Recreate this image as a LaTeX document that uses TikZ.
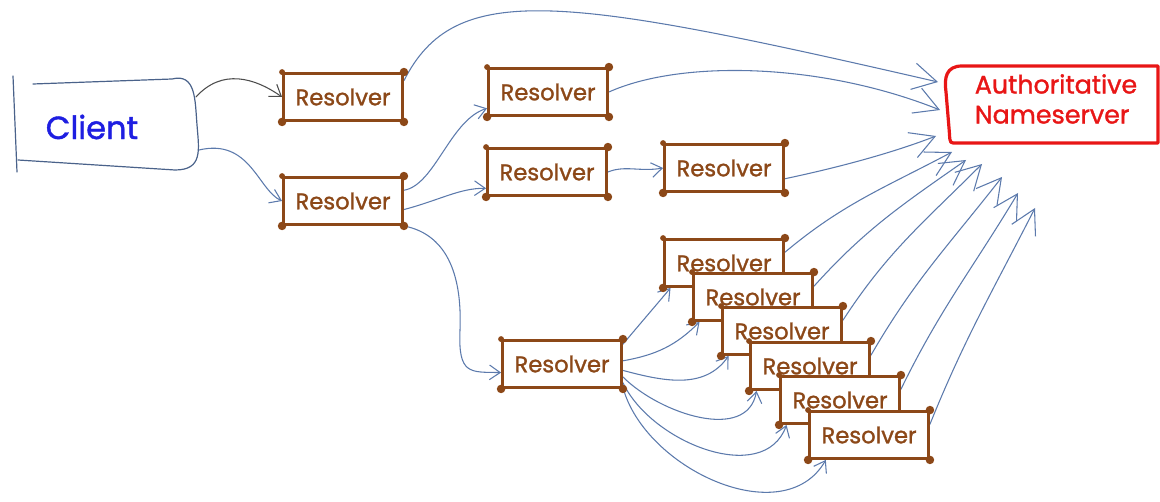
\documentclass[tikz,border=0pt]{standalone}
\usepackage{fontspec}
\setmainfont{Poppins}
\newfontfamily\handfont[FakeBold=1.3]{Poppins}
\usetikzlibrary{arrows.meta,backgrounds,positioning}

\definecolor{rbrown}{RGB}{140,72,24}
\definecolor{lnblue}{RGB}{92,122,172}
\definecolor{cblue}{RGB}{30,30,225}
\definecolor{nred}{RGB}{232,22,22}

\tikzset{
  resolver/.style={draw=rbrown, line width=2.4pt, fill=white, text=rbrown,
    minimum width=89pt, minimum height=35pt, inner sep=0pt,
    font=\handfont\fontsize{17}{17}\selectfont},
  link/.style={draw=lnblue, line width=0.8pt, line cap=round,
    -{Straight Barb[length=8pt,width=11pt,line width=0.8pt]}},
  biglink/.style={link, -{Straight Barb[length=18pt,width=20pt,line width=0.8pt]}},
  clientline/.style={draw=lnblue!80!black, line width=0.9pt, line cap=round},
  nsline/.style={draw=nred, line width=2.4pt, line join=round},
}

\newcommand{\resolverbox}[2]{%
  \node[resolver] (#1) at (#2) {Resolver};
  \foreach \c in {north east,south east,south west}
    {\fill[rbrown] (#1.\c) circle (3.2pt);}
  \fill[rbrown] (#1.north west) circle (2.2pt);
}

\begin{document}
\begin{tikzpicture}[x=0.75pt,y=-0.75pt]
\useasboundingbox (0,0) rectangle (1160,502);

% client
\draw[clientline] (13,76) -- (17,172);
\draw[clientline] (33,84) -- (172,79) .. controls (196,73) and (195,100) .. (197,125)
  .. controls (199,150) and (203,170) .. (175,170) -- (18,160);
\node[text=cblue, font=\handfont\fontsize{24}{24}\selectfont] (client) at (92,127) {Client};
\coordinate (cout1) at (196,97);
\coordinate (cout2) at (199,150);

% authoritative nameserver
\draw[nsline] (1158,66) -- (962,66) .. controls (946,66) and (944,78) .. (946,92)
  -- (949,128) .. controls (950,138) and (949,143) .. (953,143) -- (1158,143) -- cycle;
\node[text=nred, align=left, font=\handfont\fontsize{19}{22.5}\selectfont] (ns) at (1056,99) {Authoritative\\Nameserver};
\coordinate (a1) at (938,82);
\coordinate (a2) at (940,110);
\coordinate (a3) at (936,136);
\coordinate (b1) at (952,152);
\coordinate (b2) at (966,160);
\coordinate (b3) at (982,164);
\coordinate (b4) at (1002,177);
\coordinate (b5) at (1018,193);
\coordinate (b6) at (1035,208);

% resolvers
\resolverbox{r1}{343,97}
\resolverbox{r2}{343,201}
\resolverbox{r3}{548,92}
\resolverbox{r4}{547,172}
\resolverbox{r5}{724,168}
\resolverbox{r6}{562,364}
\foreach \i/\x/\y in {1/724/263,2/753/297,3/782/331,4/810/366,5/840/400,6/869/435}
  {\resolverbox{s\i}{\x,\y}}

\begin{scope}[on background layer]
\draw[link, draw=black!70] (cout1) .. controls (222,68) and (255,78) .. (r1.west);
\draw[link] (cout2) .. controls (250,138) and (258,190) .. (r2.west);
\draw[biglink] (r1.15) .. controls (455,-20) and (560,-5) .. (a1);
\draw[biglink] (r3.east) .. controls (680,60) and (820,62) .. (a2);
\draw[link] (r2.10) .. controls (435,185) and (450,120) .. (r3.-165);
\draw[link] (r2.-8) .. controls (440,200) and (460,188) .. (r4.-165);
\draw[link] (r2.south east) .. controls (450,235) and (462,280) .. (460,330)
  .. controls (458,375) and (470,372) .. (r6.-172);
\draw[link] (r4.east) .. controls (625,165) and (640,172) .. (r5.west);
\draw[biglink] (r5.-10) .. controls (850,165) and (900,150) .. (a3);
% resolver farm
\draw[link] (r6.18) to[out=50, in=-130] (s1.-155);
\draw[link] (r6.3) to[out=10, in=-135] (s2.-155);
\draw[link] (r6.-6) to[out=-15, in=-125] (s3.-155);
\draw[link] (r6.-12) to[out=-45, in=-100] (s4.-155);
\draw[link] (r6.-17) to[out=-65, in=-110] (s5.-155);
\draw[link] (r6.-21) to[out=-75, in=-120] (s6.-150);
\foreach \i/\o/\n in {1/40/-152,2/48/-145,3/57/-135,4/60/-128,5/64/-121,6/68/-117}
  {\draw[biglink] (s\i.10) to[out=\o, in=\n] (b\i);}
\end{scope}
\end{tikzpicture}
\end{document}
